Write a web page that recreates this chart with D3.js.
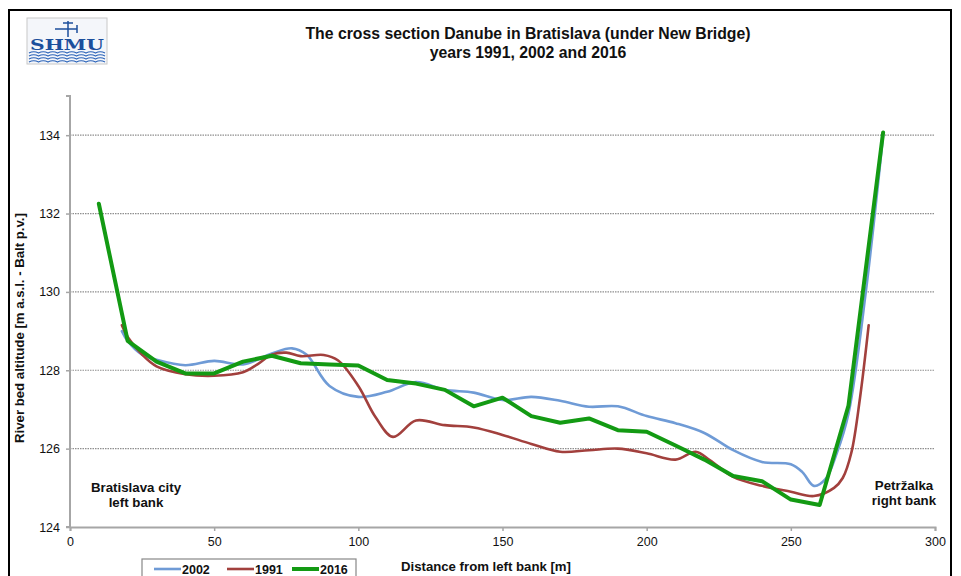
<!DOCTYPE html>
<html>
<head>
<meta charset="utf-8">
<script src="https://cdn.jsdelivr.net/npm/d3@7"></script>
<style>
  body { margin: 0; background: #fff; }
  svg text { font-family: "Liberation Sans", Arial, sans-serif; fill: #111; }
</style>
</head>
<body>
<svg id="viz"></svg>
<script>
// River bed cross section
const seriesNames = ["2002", "1991", "2016"];

const dist2002 = [18, 20, 25, 30, 40, 50, 60, 70, 77, 82, 90, 100, 110, 120, 130, 140, 150, 160, 170, 180, 190, 200, 210, 220, 230, 240, 250, 254, 258, 262, 266, 270, 276, 282];
const alt2002  = [129.0, 128.75, 128.4, 128.27, 128.13, 128.24, 128.15, 128.43, 128.56, 128.4, 127.6, 127.32, 127.45, 127.7, 127.5, 127.43, 127.24, 127.32, 127.22, 127.07, 127.08, 126.83, 126.65, 126.4, 125.96, 125.66, 125.6, 125.4, 125.05, 125.22, 125.9, 126.9, 130.0, 134.0];

const dist1991 = [18, 20, 25, 30, 40, 50, 60, 65, 70, 75, 80, 88, 93, 100, 106, 112, 120, 130, 140, 150, 160, 170, 180, 190, 200, 210, 217, 222, 230, 240, 250, 258, 265, 268, 271, 274, 277];
const alt1991  = [129.15, 128.85, 128.4, 128.1, 127.9, 127.86, 127.95, 128.15, 128.4, 128.45, 128.36, 128.39, 128.25, 127.6, 126.8, 126.3, 126.72, 126.6, 126.54, 126.35, 126.12, 125.92, 125.96, 126.0, 125.88, 125.72, 125.92, 125.7, 125.28, 125.05, 124.9, 124.79, 125.0, 125.25, 125.9, 127.3, 129.15];

const dist2016 = [10, 20, 30, 40, 50, 60, 70, 80, 90, 100, 110, 120, 130, 140, 150, 160, 170, 180, 190, 200, 210, 220, 230, 240, 250, 260, 270, 282];
const alt2016  = [132.25, 128.75, 128.22, 127.92, 127.92, 128.22, 128.37, 128.18, 128.15, 128.12, 127.75, 127.66, 127.5, 127.08, 127.3, 126.83, 126.66, 126.77, 126.47, 126.43, 126.08, 125.72, 125.3, 125.17, 124.7, 124.56, 127.1, 134.07];

const xTicks = [0, 50, 100, 150, 200, 250, 300];
const yTicks = [124, 126, 128, 130, 132, 134];

const width = 961, height = 576;
const margin = { left: 70, right: 26, top: 96, bottom: 49 };

const svg = d3.select("#viz").attr("width", width).attr("height", height);

// outer frame
svg.append("rect")
  .attr("x", 9).attr("y", 10)
  .attr("width", 942).attr("height", 580)
  .attr("fill", "none").attr("stroke", "#000").attr("stroke-width", 2);

// logo (simplified SHMU)
const logo = svg.append("g").attr("transform", "translate(27,18)");
logo.append("rect").attr("width", 80).attr("height", 46)
  .attr("fill", "#f4f6fa").attr("stroke", "#c8c8c8");
logo.append("path").attr("d", "M28 11 H50 M41 3 V19 M50 7 v8 M36 5 h10")
  .attr("stroke", "#1c4f9c").attr("stroke-width", 1.5).attr("fill", "none");
logo.append("text").attr("x", 3).attr("y", 32)
  .attr("textLength", 74).attr("lengthAdjust", "spacingAndGlyphs")
  .style("font-family", "'DejaVu Serif', serif").style("font-weight", "bold")
  .style("font-size", "15px").style("fill", "#1c4f9c").text("SHMU");
for (let i = 0; i < 4; i++) {
  let d = "M2 " + (35 + i * 3);
  for (let k = 0; k < 8; k++) d += " q4.75 -2.5 9.5 0";
  logo.append("path").attr("d", d).attr("fill", "none")
    .attr("stroke", "#2a62b8").attr("stroke-width", 1.2);
}

// title
const title = svg.append("text").attr("text-anchor", "middle")
  .style("font-weight", "bold").style("font-size", "15.8px");
title.append("tspan").attr("x", 528).attr("y", 39).text("The cross section Danube in Bratislava (under New Bridge)");
title.append("tspan").attr("x", 528).attr("y", 58).text("years 1991, 2002 and 2016");

const x = d3.scaleLinear().domain([0, 300]).range([margin.left, width - margin.right]);
const y = d3.scaleLinear().domain([124, 135]).range([height - margin.bottom, margin.top]);

// gridlines
svg.append("g").selectAll("line").data(yTicks.filter(d => d > 124)).join("line")
  .attr("x1", x(0)).attr("x2", x(300))
  .attr("y1", d => y(d)).attr("y2", d => y(d))
  .attr("stroke", "#8f8f8f").attr("stroke-width", 1.2)
  .attr("stroke-dasharray", "1.5,1");

// axes
const xAxis = svg.append("g")
  .attr("transform", `translate(0,${y(124)})`)
  .call(d3.axisBottom(x).tickValues(xTicks).tickSize(4).tickPadding(6));
const yAxis = svg.append("g")
  .attr("transform", `translate(${x(0)},0)`)
  .call(d3.axisLeft(y).tickValues(yTicks).tickSize(4).tickPadding(6));
[xAxis, yAxis].forEach(a => {
  a.select(".domain").attr("stroke", "#a6a6a6").attr("stroke-width", 2);
  a.selectAll(".tick line").attr("stroke", "#a6a6a6").attr("stroke-width", 1.5);
  a.selectAll("text").style("font-size", "12.5px").style("font-family", "'Liberation Sans', Arial, sans-serif").attr("fill", "#111");
});
yAxis.select(".domain").attr("d", `M-4,${y(135)}H0V${y(124)}H-4`);

// series
const line = d3.line().x(d => x(d[0])).y(d => y(d[1])).curve(d3.curveCatmullRom.alpha(0.5));
const straight = d3.line().x(d => x(d[0])).y(d => y(d[1]));

const zip = (a, b) => a.map((v, i) => [v, b[i]]);
const series = [
  { name: "2002", pts: zip(dist2002, alt2002), color: "#6f9bd6", w: 2.6, gen: line },
  { name: "1991", pts: zip(dist1991, alt1991), color: "#a2403d", w: 2.6, gen: line },
  { name: "2016", pts: zip(dist2016, alt2016), color: "#139a13", w: 4, gen: straight }
];
svg.append("g").selectAll("path").data(series).join("path")
  .attr("d", d => d.gen(d.pts))
  .attr("fill", "none")
  .attr("stroke", d => d.color)
  .attr("stroke-width", d => d.w)
  .attr("stroke-linejoin", "round")
  .attr("stroke-linecap", "round");

// bank labels
const bankText = (cx, lines, y0) => {
  const t = svg.append("text").attr("text-anchor", "middle")
    .style("font-weight", "bold").style("font-size", "13.3px");
  lines.forEach((s, i) => t.append("tspan").attr("x", cx).attr("y", y0 + i * 15).text(s));
};
bankText(136, ["Bratislava city", "left bank"], 492);
bankText(904, ["Petržalka", "right bank"], 490);

// axis titles
svg.append("text").attr("x", 486).attr("y", 571).attr("text-anchor", "middle")
  .style("font-weight", "bold").style("font-size", "13.2px")
  .text("Distance from left bank [m]");
svg.append("text")
  .attr("transform", "translate(24,328) rotate(-90)")
  .attr("text-anchor", "middle")
  .style("font-weight", "bold").style("font-size", "13.2px")
  .text("River bed altitude [m a.s.l. - Balt p.v.]");

// legend
const legend = svg.append("g");
legend.append("rect").attr("x", 142).attr("y", 559).attr("width", 214).attr("height", 30)
  .attr("fill", "#fff").attr("stroke", "#888").attr("stroke-width", 1.2);
const legX = [154, 227, 292];
series.forEach((s, i) => {
  legend.append("line").attr("x1", legX[i]).attr("x2", legX[i] + 27)
    .attr("y1", 569).attr("y2", 569)
    .attr("stroke", s.color).attr("stroke-width", s.w);
  legend.append("text").attr("x", legX[i] + 28).attr("y", 573.5)
    .style("font-weight", "bold").style("font-size", "12.5px").text(s.name);
});
</script>
</body>
</html>
